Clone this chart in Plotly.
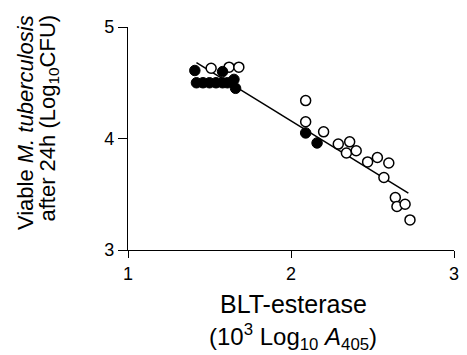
import plotly.graph_objects as go

# Filled circles
filled_x = [1.41, 1.58, 1.65, 1.66, 1.42, 1.46, 1.50, 1.54, 1.58, 1.61, 2.09, 2.16]
filled_y = [4.61, 4.60, 4.53, 4.45, 4.50, 4.50, 4.50, 4.50, 4.50, 4.50, 4.05, 3.96]

# Open circles
open_x = [1.51, 1.62, 1.68, 2.09, 2.09, 2.20, 2.29, 2.36, 2.34, 2.40, 2.47, 2.53, 2.60, 2.57, 2.64, 2.65, 2.70, 2.73]
open_y = [4.63, 4.64, 4.64, 4.34, 4.15, 4.06, 3.95, 3.97, 3.87, 3.89, 3.79, 3.83, 3.78, 3.65, 3.47, 3.39, 3.41, 3.27]

# Regression line endpoints
fit_x = [1.42, 2.72]
fit_y = [4.68, 3.51]

x_ticks = [1, 2, 3]
y_ticks = [3, 4, 5]

fig = go.Figure()
fig.add_trace(go.Scatter(x=fit_x, y=fit_y, mode="lines",
                         line=dict(color="black", width=1.5), showlegend=False))
fig.add_trace(go.Scatter(x=open_x, y=open_y, mode="markers",
                         marker=dict(size=10, color="white", line=dict(color="black", width=1.5)),
                         showlegend=False))
fig.add_trace(go.Scatter(x=filled_x, y=filled_y, mode="markers",
                         marker=dict(size=10.5, color="black", line=dict(color="black", width=1)),
                         showlegend=False))

font = "Liberation Sans, Arial, sans-serif"
fig.update_layout(
    width=467, height=355,
    margin=dict(l=128, r=8, t=27, b=105),
    paper_bgcolor="white", plot_bgcolor="white",
    font=dict(family=font, color="black", size=18),
    xaxis=dict(range=[1, 3], tickvals=x_ticks, ticktext=[str(v) for v in x_ticks],
               showline=True, linecolor="black", linewidth=1.2, ticks="outside",
               ticklen=7, tickwidth=1.2, tickcolor="black", showgrid=False, zeroline=False,
               tickfont=dict(size=18)),
    yaxis=dict(range=[3, 5], tickvals=y_ticks, ticktext=[str(v) for v in y_ticks],
               showline=True, linecolor="black", linewidth=1.2, ticks="outside",
               ticklen=9, tickwidth=1.2, tickcolor="black", showgrid=False, zeroline=False,
               tickfont=dict(size=18)),
)

fig.add_annotation(text="BLT-esterase",
                   xref="paper", yref="paper", x=0.508, y=-0.242, xanchor="center", yanchor="middle",
                   showarrow=False, font=dict(size=25, family=font))
fig.add_annotation(text="(10<sup>3</sup> Log<sub>10</sub> <i>A</i><sub>405</sub>)",
                   xref="paper", yref="paper", x=0.506, y=-0.39, xanchor="center", yanchor="middle",
                   showarrow=False, font=dict(size=24, family=font))
fig.add_annotation(text="Viable <i>M. tuberculosis</i>",
                   xref="paper", yref="paper", x=-0.314, y=1.063, xanchor="center", yanchor="top",
                   textangle=-90, showarrow=False, font=dict(size=22, family=font))
fig.add_annotation(text="after 24h (Log<sub>10</sub>CFU)",
                   xref="paper", yref="paper", x=-0.242, y=1.063, xanchor="center", yanchor="top",
                   textangle=-90, showarrow=False, font=dict(size=22, family=font))

fig.write_html("out.html", config={"displayModeBar": False},
               post_script="document.body.style.margin='0';")
